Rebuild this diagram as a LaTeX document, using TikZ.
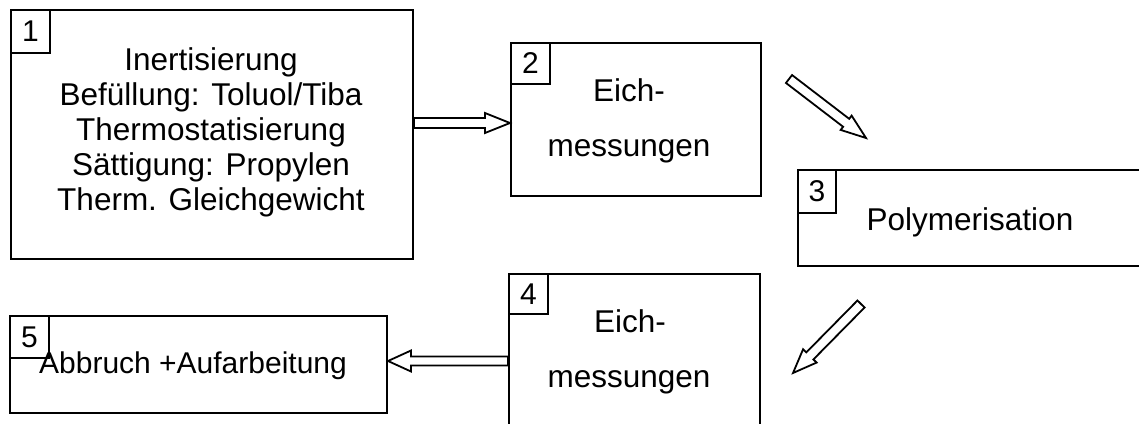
\documentclass[tikz,border=0pt]{standalone}
\usepackage{fontspec}
\setmainfont{Liberation Sans}
\usetikzlibrary{calc}
\tikzset{
  frame/.style={draw, line width=2pt, anchor=north west, inner sep=0pt},
  tag/.style={draw, line width=1.8pt, anchor=north west, inner sep=0pt,
    minimum width=39pt, font=\fontsize{30}{30}\selectfont},
  body/.style={anchor=base, inner sep=0pt, font=\fontsize{31.5}{35}\selectfont},
  hollow/.style={draw, line width=1.8pt, line join=miter, fill=white},
}
% hollow block arrow: tail, tip, shaft half-width, head half-width, head length
\newcommand\hollowarrow[5]{%
  \coordinate (ha) at ($(#2)!#5!(#1)$);
  \draw[hollow] ($(#1)!#3!90:(#2)$) -- ($(ha)!#3!90:(#2)$) -- ($(ha)!#4!90:(#2)$)
    -- (#2) -- ($(ha)!#4!-90:(#2)$) -- ($(ha)!#3!-90:(#2)$) -- ($(#1)!#3!-90:(#2)$) -- cycle;
}
\begin{document}
\begin{tikzpicture}[x=1pt,y=-1pt]
\useasboundingbox (0,0) rectangle (1139,423);
\clip (0,0) rectangle (1139,423);

% process boxes
\node[frame, minimum width=402pt, minimum height=249pt] (b1) at (10,9) {};
\node[frame, minimum width=250pt, minimum height=153pt] (b2) at (510,42) {};
\node[frame, minimum width=380pt, minimum height=96pt] (b3) at (797,169) {};
\node[frame, minimum width=251pt, minimum height=170pt] (b4) at (508,273) {};
\node[frame, minimum width=377pt, minimum height=97pt] (b5) at (9,315) {};

% step numbers
\node[tag, minimum height=43pt] (k1) at (b1.north west) {1};
\node[tag, minimum height=41pt] (k2) at (b2.north west) {2};
\node[tag, minimum width=38pt, minimum height=43pt] (k3) at (b3.north west) {3};
\node[tag, minimum height=40pt] (k4) at (b4.north west) {4};
\node[tag, minimum height=42pt] (k5) at (b5.north west) {5};

% step descriptions
\node[body] (t1a) at (211,70) {Inertisierung};
\node[body] (t1b) at (211,105) {Befüllung: Toluol/Tiba};
\node[body] (t1c) at (211,140) {Thermostatisierung};
\node[body] (t1d) at (211,175) {Sättigung: Propylen};
\node[body] (t1e) at (211,210) {Therm. Gleichgewicht};
\node[body] (t2a) at (629,101) {Eich-};
\node[body] (t2b) at (629,156) {messungen};
\node[body] (t3) at (970,230) {Polymerisation};
\node[body] (t4a) at (630,332) {Eich-};
\node[body] (t4b) at (629,387) {messungen};
\node[body, font=\fontsize{30}{34}\selectfont] (t5) at (193,373) {Abbruch +Aufarbeitung};

% flow arrows
\coordinate (e12) at ($(b2.west)+(0,3.5)$);
\coordinate (s12) at (b1.east |- e12);
\hollowarrow{s12}{e12}{5pt}{10pt}{25pt}

\coordinate (s23) at (789,79);
\coordinate (e23) at (866,138);
\hollowarrow{s23}{e23}{5pt}{9pt}{25pt}

\coordinate (s34) at (861,304);
\coordinate (e34) at (793,373);
\hollowarrow{s34}{e34}{5pt}{9.5pt}{24pt}

\coordinate (e45) at ($(b5.east)+(0,-3.5)$);
\coordinate (s45) at (b4.west |- e45);
\hollowarrow{s45}{e45}{4.5pt}{10.5pt}{23pt}
\end{tikzpicture}
\end{document}
